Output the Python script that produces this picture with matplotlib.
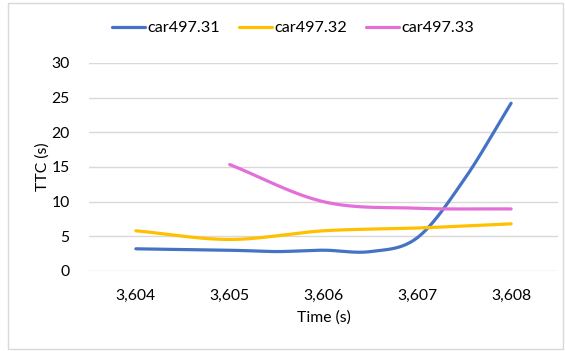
import numpy as np
import matplotlib.pyplot as plt
from matplotlib.patches import Rectangle
from matplotlib.ticker import FuncFormatter

# values
t_31 = [3604, 3604.5, 3605, 3605.5, 3606, 3606.5, 3607, 3607.5, 3608]
ttc_31 = [3.2, 3.1, 3.0, 2.8, 3.0, 2.8, 4.8, 13.2, 24.2]
t_32 = [3604, 3605, 3606, 3607, 3608]
ttc_32 = [5.8, 4.55, 5.8, 6.2, 6.8]
t_33 = [3605, 3606, 3607, 3608]
ttc_33 = [15.35, 10.0, 9.05, 8.95]

labels = ['car497.31', 'car497.32', 'car497.33']
colors = ['#4472C4', '#FFC000', '#E36FD8']
xticks = [3604, 3605, 3606, 3607, 3608]


def smooth(x, y, n=40):
    # excel-ish smoothed line (catmull-rom style hermite)
    x = np.asarray(x, float); y = np.asarray(y, float)
    m = np.zeros(len(x))
    for i in range(len(x)):
        a = max(i - 1, 0); b = min(i + 1, len(x) - 1)
        m[i] = (y[b] - y[a]) / (x[b] - x[a])
    xs, ys = [], []
    for i in range(len(x) - 1):
        h = x[i+1] - x[i]
        s = np.linspace(0, 1, n)
        h00 = 2*s**3 - 3*s**2 + 1; h10 = s**3 - 2*s**2 + s
        h01 = -2*s**3 + 3*s**2; h11 = s**3 - s**2
        xs.extend(x[i] + s*h)
        ys.extend(h00*y[i] + h10*h*m[i] + h01*y[i+1] + h11*h*m[i+1])
    return xs, ys


plt.rcParams['font.family'] = ['Lato', 'DejaVu Sans']
fs = 11.3
fig = plt.figure(figsize=(5.65, 3.51), dpi=100)
ax = fig.add_axes([89/565, 1-271/351, 469/565, 208/351])

series = [(t_31, ttc_31), (t_32, ttc_32), (t_33, ttc_33)]
for (t, v), lab, c in zip(series, labels, colors):
    xs, ys = smooth(t, v)
    ax.plot(xs, ys, color=c, lw=2.3, label=lab, solid_capstyle='round', zorder=3)

ax.set_xlim(3603.5, 3608.5)
ax.set_ylim(0, 30)
ax.set_yticks(range(0, 31, 5))
ax.set_xticks(xticks)
ax.xaxis.set_major_formatter(FuncFormatter(lambda v, p: f'{int(round(v)):,}'))
ax.grid(axis='y', color='#d9d9d9', lw=1)
ax.set_axisbelow(True)
for s in ['top', 'right', 'left', 'bottom']:
    ax.spines[s].set_visible(False)
ax.tick_params(length=0, labelsize=fs, colors='#000000')
ax.tick_params(axis='x', pad=13)
ax.tick_params(axis='y', pad=14)
ax.set_xlabel('Time (s)', fontsize=fs, labelpad=5)
ax.set_ylabel('TTC (s)', fontsize=fs, labelpad=1)

fig.legend(loc='center', bbox_to_anchor=(293/565, 1-28/351), ncol=3, frameon=False,
           fontsize=11.7, handlelength=2.0, handletextpad=0.15, columnspacing=1.2)

fig.patches.append(Rectangle((8/565, 2/351), 555/565, 346/351, transform=fig.transFigure,
                             fill=False, edgecolor='#d9d9d9', lw=1))

fig.savefig('out.png', dpi=100)
